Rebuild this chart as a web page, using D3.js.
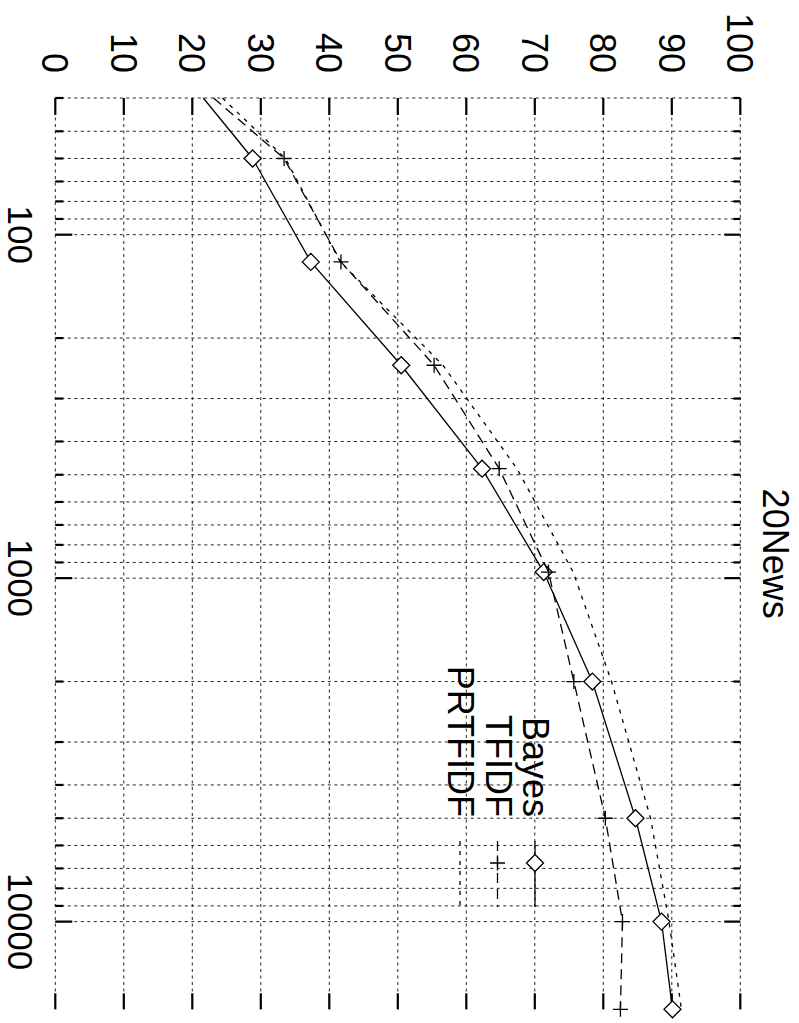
<!DOCTYPE html>
<html>
<head>
<meta charset="utf-8">
<script src="https://cdn.jsdelivr.net/npm/d3@7"></script>
<style>
  body { margin: 0; background: #fff; }
  text { font-family: "Liberation Sans", Arial, Helvetica, sans-serif; fill: #000; }
</style>
</head>
<body>
<div id="chart"></div>
<script>
// Data - number of training documents vs accuracy (%)
const doc_counts = [40, 60, 120, 240, 480, 960, 2000, 5000, 10000, 18000];
const bayes = [21.6, 28.8, 37.3, 50.5, 62.3, 71.3, 78.4, 84.7, 88.5, 90.1];
const tfidf = [23.1, 33.4, 41.7, 55.3, 64.8, 72.0, 75.7, 80.3, 82.8, 82.5];
const prtfidf = [24.4, 33.6, 41.6, 56.6, 67.4, 75.6, 81.2, 86.9, 89.6, 91.4];
const series_names = ['Bayes', 'TFIDF', 'PRTFIDF'];
const value_ticks = [0, 10, 20, 30, 40, 50, 60, 70, 80, 90, 100];
const count_labels = [100, 1000, 10000];
const chart_title = '20News';

const width = 799, height = 1023;
// the plot is drawn landscape, then turned a quarter clockwise
const plot = {left: 98, right: 1009.3, top: 58.7, bottom: 743.7};

let svg = d3.select('#chart')
  .append('svg')
    .attr('width', width)
    .attr('height', height);

let g = svg.append('g')
  .attr('transform', 'translate(' + width + ',0) rotate(90)');

// Scales
let x_scale = d3.scaleLog()
  .domain([d3.min(doc_counts), d3.max(doc_counts)])
  .range([plot.left, plot.right]);
let y_scale = d3.scaleLinear()
  .domain([0, 100])
  .range([plot.bottom, plot.top]);

let x_ticks = x_scale.ticks();
let is_major = d => count_labels.indexOf(d) >= 0;

// Grid
g.append('g').selectAll('line')
  .data(x_ticks)
  .enter().append('line')
    .attr('x1', d => x_scale(d)).attr('x2', d => x_scale(d))
    .attr('y1', plot.top).attr('y2', plot.bottom)
    .attr('stroke', '#222').attr('stroke-width', 1)
    .attr('stroke-dasharray', '3,3.5');
g.append('g').selectAll('line')
  .data(value_ticks)
  .enter().append('line')
    .attr('x1', plot.left).attr('x2', plot.right)
    .attr('y1', d => y_scale(d)).attr('y2', d => y_scale(d))
    .attr('stroke', '#222').attr('stroke-width', 1)
    .attr('stroke-dasharray', '3,3.5');

// Tick marks, pointing inward on all four sides
let ticks = g.append('g').attr('stroke', '#000').attr('stroke-width', 2.2);
ticks.selectAll('.tick-b')
  .data(x_ticks)
  .enter().append('line')
    .attr('x1', d => x_scale(d)).attr('x2', d => x_scale(d))
    .attr('y1', plot.bottom).attr('y2', d => plot.bottom - (is_major(d) ? 17 : 8));
ticks.selectAll('.tick-t')
  .data(x_ticks)
  .enter().append('line')
    .attr('x1', d => x_scale(d)).attr('x2', d => x_scale(d))
    .attr('y1', plot.top).attr('y2', d => plot.top + (is_major(d) ? 16 : 7));
ticks.selectAll('.tick-l')
  .data(value_ticks)
  .enter().append('line')
    .attr('x1', plot.left).attr('x2', plot.left + 17)
    .attr('y1', d => y_scale(d)).attr('y2', d => y_scale(d));
ticks.selectAll('.tick-r')
  .data(value_ticks)
  .enter().append('line')
    .attr('x1', plot.right).attr('x2', plot.right - 16)
    .attr('y1', d => y_scale(d)).attr('y2', d => y_scale(d));

// Tick labels
g.append('g').selectAll('text')
  .data(value_ticks)
  .enter().append('text')
    .attr('x', plot.left - 25)
    .attr('y', d => y_scale(d))
    .attr('dy', '0.36em')
    .attr('text-anchor', 'end')
    .style('font-size', '36px')
    .text(d => d);
g.append('g').selectAll('text')
  .data(count_labels)
  .enter().append('text')
    .attr('x', d => x_scale(d))
    .attr('y', plot.bottom + 47)
    .attr('text-anchor', 'middle')
    .style('font-size', '35px')
    .text(d => d);

// Title
g.append('text')
  .attr('x', (plot.left + plot.right) / 2)
  .attr('y', 36)
  .attr('text-anchor', 'middle')
  .style('font-size', '36px')
  .text(chart_title);

// Series
let series = [
  {name: series_names[0], values: bayes, dash: null, marker: 'diamond'},
  {name: series_names[1], values: tfidf, dash: '10,6', marker: 'plus'},
  {name: series_names[2], values: prtfidf, dash: '4,6', marker: null}
];
let marker_path = {
  diamond: 'M0,-8.5L8.5,0L0,8.5L-8.5,0Z',
  plus: 'M-7.5,0H7.5M0,-7.5V7.5'
};

let line = d3.line()
  .x((d, i) => x_scale(doc_counts[i]))
  .y(d => y_scale(d));

series.forEach(s => {
  g.append('path')
    .datum(s.values)
    .attr('fill', 'none')
    .attr('stroke', '#000')
    .attr('stroke-width', 1.3)
    .attr('stroke-dasharray', s.dash)
    .attr('d', line);
  if (s.marker) {
    // the first point sits on the axis edge and has no symbol
    g.append('g').selectAll('path')
      .data(s.values.slice(1))
      .enter().append('path')
        .attr('transform', (d, i) => 'translate(' + x_scale(doc_counts[i + 1]) + ',' + y_scale(d) + ')')
        .attr('d', marker_path[s.marker])
        .attr('fill', s.marker === 'diamond' ? '#fff' : 'none')
        .attr('stroke', '#000')
        .attr('stroke-width', 1.3);
  }
});

// Legend
let legend = g.append('g');
series.forEach((s, i) => {
  let base = 276 + i * 37.5;
  legend.append('text')
    .attr('x', 817)
    .attr('y', base)
    .attr('text-anchor', 'end')
    .style('font-size', '36px')
    .text(s.name);
  legend.append('line')
    .attr('x1', 841).attr('x2', 907)
    .attr('y1', base - 12).attr('y2', base - 12)
    .attr('stroke', '#000')
    .attr('stroke-width', 1.3)
    .attr('stroke-dasharray', s.dash);
  if (s.marker) {
    legend.append('path')
      .attr('transform', 'translate(863,' + (base - 12) + ')')
      .attr('d', marker_path[s.marker])
      .attr('fill', s.marker === 'diamond' ? '#fff' : 'none')
      .attr('stroke', '#000')
      .attr('stroke-width', 1.3);
  }
});
</script>
</body>
</html>
